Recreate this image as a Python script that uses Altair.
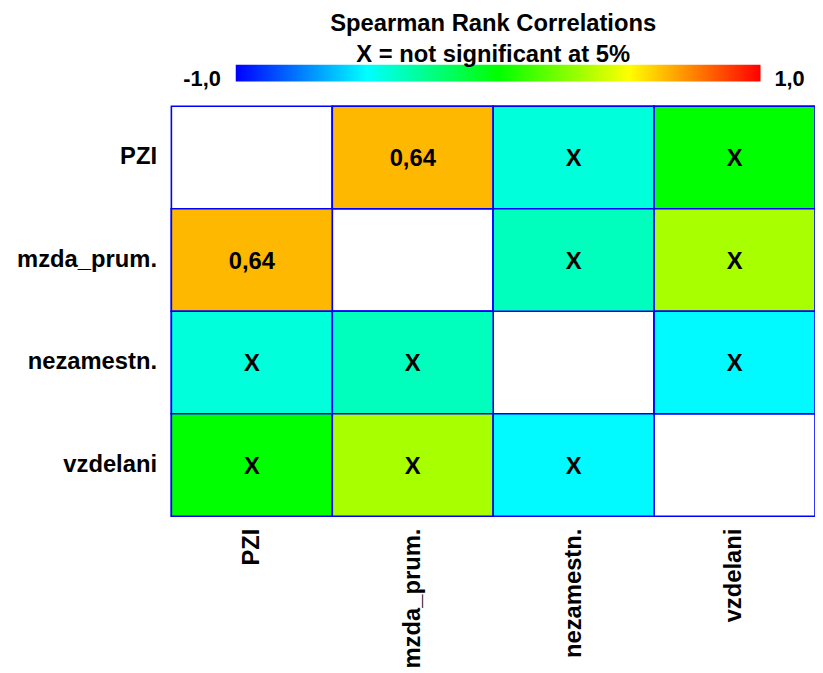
import altair as alt
import pandas as pd

# Variables (row/column order)
variables = ["PZI", "mzda_prum.", "nezamestn.", "vzdelani"]

# Upper-triangle pairs of the Spearman correlation matrix
pair_a = ["PZI", "PZI", "PZI", "mzda_prum.", "mzda_prum.", "nezamestn."]
pair_b = ["mzda_prum.", "nezamestn.", "vzdelani", "nezamestn.", "vzdelani", "vzdelani"]
rho = [0.64, -0.43, 0.00, -0.37, 0.33, -0.51]
significant = [True, False, False, False, False, False]

# Colour bar
color_stops = [-1.0, -0.5, 0.0, 0.5, 1.0]
color_range = ["#0000ff", "#00ffff", "#00ff00", "#ffff00", "#ff0000"]
bar_labels = ["-1,0", "1,0"]
title_lines = ["Spearman Rank Correlations", "X = not significant at 5%"]

FONT = "Liberation Sans"

rows = []
for a, b, r, s in zip(pair_a, pair_b, rho, significant):
    lab = f"{r:.2f}".replace(".", ",") if s else "X"
    rows.append({"x": a, "y": b, "rho": r, "label": lab})
    rows.append({"x": b, "y": a, "rho": r, "label": lab})
cells = pd.DataFrame(rows)
grid = pd.DataFrame([{"x": a, "y": b} for a in variables for b in variables])

axis_style = dict(ticks=False, tickSize=0, domain=False, labelFont=FONT,
                  labelFontWeight="bold", labelFontSize=24, labelColor="black")
xenc = alt.X("x:N", sort=variables, title=None,
             scale=alt.Scale(paddingInner=0, paddingOuter=0),
             axis=alt.Axis(labelAngle=-90, labelPadding=12, labelAlign="right",
                           labelBaseline="middle", **axis_style))
yenc = alt.Y("y:N", sort=variables, title=None,
             scale=alt.Scale(paddingInner=0, paddingOuter=0),
             axis=alt.Axis(labelPadding=15, **axis_style))

base = alt.Chart(grid).mark_rect(fill="white", stroke="#0000ff", strokeWidth=1.6).encode(
    x=xenc, y=yenc)

heat = alt.Chart(cells).mark_rect(stroke="#0000ff", strokeWidth=1.6).encode(
    x=xenc, y=yenc,
    color=alt.Color("rho:Q", title=None,
                    scale=alt.Scale(domain=color_stops, range=color_range, interpolate="rgb"),
                    legend=alt.Legend(orient="none", legendX=65, legendY=-42,
                                      direction="horizontal", gradientLength=530,
                                      gradientThickness=17, labelOpacity=0,
                                      gradientStrokeWidth=0)))

text = alt.Chart(cells).mark_text(font=FONT, fontWeight="bold", fontSize=24,
                                  color="black", dy=2).encode(
    x=xenc, y=yenc, text="label:N")

lab_left = alt.Chart(pd.DataFrame({"t": [bar_labels[0]]})).mark_text(
    font=FONT, fontWeight="bold", fontSize=22, align="right", baseline="middle",
    color="black").encode(x=alt.value(50), y=alt.value(-28), text="t:N")
lab_right = alt.Chart(pd.DataFrame({"t": [bar_labels[1]]})).mark_text(
    font=FONT, fontWeight="bold", fontSize=22, align="left", baseline="middle",
    color="black").encode(x=alt.value(609), y=alt.value(-28), text="t:N")

chart = alt.layer(base, heat, text, lab_left, lab_right).properties(
    width=650, height=414,
    title=alt.TitleParams(text=title_lines, font=FONT, fontWeight="bold",
                          fontSize=24, lineHeight=31, offset=-2, color="black"),
    autosize=alt.AutoSizeParams(type="none"),
    padding={"left": 165, "top": 96, "right": 0, "bottom": 152},
    background="white",
).configure_view(stroke=None)

chart.save("out.html", embed_options={"renderer": "svg", "actions": False})
